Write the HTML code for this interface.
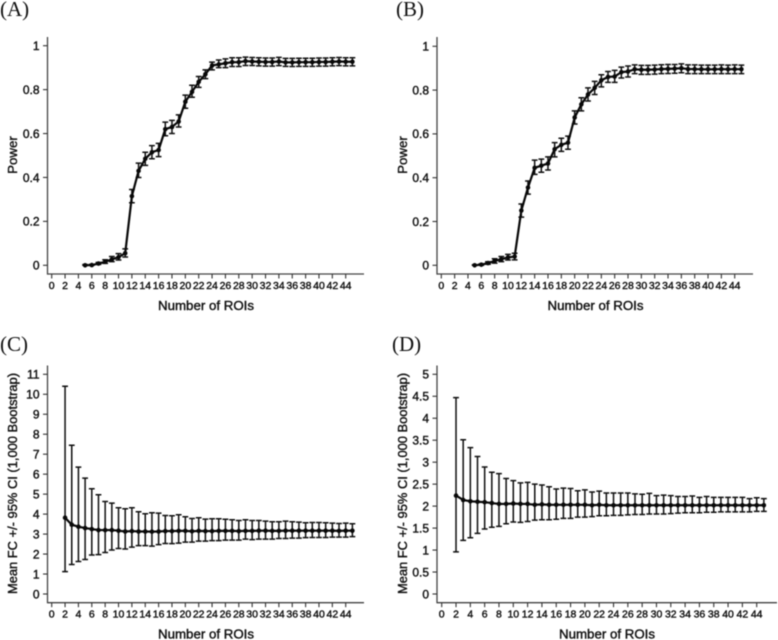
<!DOCTYPE html>
<html>
<head>
<meta charset="utf-8">
<title>Power and mean FC by number of ROIs</title>
<style>
html,body{margin:0;padding:0;background:#fff;}
#figure{display:block;width:778px;height:640px;filter:blur(0.4px);}
text{font-family:"Liberation Sans",sans-serif;fill:#111;stroke:#111;stroke-width:0.4px;}
.tag{font-family:"Liberation Serif",serif;font-size:21px;stroke:none;fill:#111;}
</style>
</head>
<body>
<svg id="figure" xmlns="http://www.w3.org/2000/svg" width="778" height="640" viewBox="0 0 778 640"></svg>
<script>
const roisPower = [5,6,7,8,9,10,11,12,13,14,15,16,17,18,19,20,21,22,23,24,25,26,27,28,29,30,31,32,33,34,35,36,37,38,39,40,41,42,43,44,45];
const roisFc = [2,3,4,5,6,7,8,9,10,11,12,13,14,15,16,17,18,19,20,21,22,23,24,25,26,27,28,29,30,31,32,33,34,35,36,37,38,39,40,41,42,43,44,45];
const xTickLabels = [0,2,4,6,8,10,12,14,16,18,20,22,24,26,28,30,32,34,36,38,40,42,44];
const powerTicks = [0,0.2,0.4,0.6,0.8,1];
const fcTicksC = [0,1,2,3,4,5,6,7,8,9,10,11];
const fcTicksD = [0,0.5,1,1.5,2,2.5,3,3.5,4,4.5,5];

const meanA = [0,0.001,0.008,0.016,0.027,0.037,0.055,0.315,0.43,0.485,0.515,0.525,0.62,0.63,0.655,0.745,0.79,0.835,0.87,0.91,0.915,0.92,0.925,0.925,0.93,0.928,0.927,0.926,0.926,0.928,0.924,0.924,0.925,0.925,0.925,0.926,0.926,0.927,0.928,0.927,0.927];
const upperA = [0.003,0.004,0.013,0.025,0.04,0.053,0.075,0.345,0.465,0.515,0.545,0.555,0.652,0.66,0.685,0.775,0.82,0.86,0.89,0.925,0.935,0.94,0.945,0.945,0.948,0.946,0.945,0.944,0.944,0.947,0.942,0.942,0.943,0.943,0.943,0.944,0.944,0.945,0.946,0.945,0.945];
const lowerA = [0,0,0.004,0.009,0.017,0.024,0.038,0.285,0.4,0.455,0.485,0.495,0.59,0.6,0.63,0.715,0.765,0.81,0.85,0.89,0.9,0.9,0.905,0.905,0.91,0.91,0.908,0.907,0.907,0.909,0.906,0.905,0.906,0.906,0.906,0.907,0.907,0.908,0.909,0.908,0.908];

const meanB = [0,0.003,0.01,0.02,0.028,0.036,0.04,0.25,0.355,0.445,0.455,0.465,0.53,0.55,0.56,0.675,0.735,0.78,0.81,0.845,0.86,0.862,0.882,0.885,0.895,0.893,0.893,0.894,0.896,0.897,0.898,0.9,0.896,0.896,0.895,0.895,0.895,0.896,0.895,0.896,0.895];
const upperB = [0.002,0.006,0.016,0.03,0.04,0.05,0.055,0.28,0.385,0.48,0.485,0.495,0.56,0.58,0.59,0.705,0.765,0.81,0.84,0.87,0.885,0.89,0.905,0.91,0.915,0.913,0.913,0.914,0.916,0.917,0.917,0.92,0.915,0.915,0.914,0.914,0.914,0.915,0.914,0.915,0.914];
const lowerB = [0,0,0.005,0.01,0.017,0.024,0.025,0.22,0.325,0.415,0.425,0.435,0.495,0.52,0.53,0.645,0.705,0.75,0.78,0.815,0.835,0.835,0.855,0.86,0.875,0.872,0.872,0.873,0.875,0.876,0.877,0.879,0.875,0.875,0.875,0.875,0.875,0.875,0.875,0.875,0.875];

const meanC = [3.82,3.47,3.37,3.3,3.25,3.2,3.2,3.2,3.17,3.13,3.15,3.13,3.13,3.12,3.13,3.15,3.15,3.16,3.16,3.14,3.16,3.15,3.15,3.16,3.16,3.16,3.15,3.16,3.16,3.17,3.17,3.16,3.16,3.17,3.17,3.17,3.17,3.17,3.17,3.17,3.17,3.16,3.17,3.17];
const upperC = [10.4,7.45,6.35,5.8,5.27,4.97,4.63,4.55,4.32,4.27,4.32,4.12,4.02,4.07,4.05,3.93,3.92,3.97,3.87,3.78,3.82,3.75,3.77,3.77,3.74,3.72,3.68,3.72,3.68,3.68,3.65,3.62,3.62,3.65,3.62,3.6,3.57,3.58,3.58,3.57,3.55,3.53,3.55,3.52];
const lowerC = [1.12,1.48,1.63,1.73,1.95,1.97,2.08,2.2,2.28,2.25,2.35,2.42,2.42,2.4,2.47,2.53,2.52,2.55,2.6,2.6,2.65,2.65,2.67,2.67,2.7,2.7,2.7,2.75,2.72,2.75,2.75,2.75,2.78,2.78,2.8,2.8,2.82,2.83,2.83,2.83,2.85,2.85,2.85,2.87];

const meanD = [2.24,2.14,2.11,2.1,2.09,2.07,2.05,2.05,2.06,2.05,2.05,2.03,2.04,2.03,2.03,2.03,2.03,2.03,2.03,2.02,2.03,2.02,2.02,2.02,2.02,2.02,2.02,2.02,2.02,2.02,2.02,2.02,2.02,2.02,2.02,2.02,2.02,2.02,2.02,2.02,2.02,2.02,2.02,2.02];
const upperD = [4.47,3.51,3.33,3.13,2.89,2.77,2.74,2.63,2.58,2.53,2.54,2.5,2.48,2.44,2.39,2.41,2.4,2.35,2.37,2.32,2.34,2.3,2.3,2.3,2.3,2.28,2.27,2.29,2.24,2.25,2.24,2.22,2.22,2.23,2.2,2.22,2.2,2.2,2.2,2.2,2.2,2.17,2.19,2.17];
const lowerD = [0.96,1.22,1.28,1.38,1.48,1.52,1.54,1.6,1.64,1.63,1.65,1.68,1.69,1.69,1.7,1.72,1.72,1.75,1.75,1.76,1.78,1.78,1.79,1.79,1.8,1.81,1.81,1.82,1.82,1.82,1.83,1.84,1.85,1.85,1.85,1.86,1.86,1.87,1.87,1.87,1.87,1.87,1.88,1.88];

const NS = 'http://www.w3.org/2000/svg';
const root = document.getElementById('figure');

function make(tag, parent, attrs, content) {
  const el = document.createElementNS(NS, tag);
  for (const k in attrs) el.setAttribute(k, attrs[k]);
  if (content !== undefined) el.textContent = content;
  parent.appendChild(el);
  return el;
}

function drawPanel(p) {
  const g = make('g', root, {});
  
  

  const scaleX = v => p.x0 + (p.x44 - p.x0) * v / 44;
  const scaleY = v => p.yZero + (p.yMax - p.yZero) * v / p.maxTick;

  const tag = make('text', g, { x: p.tagX, y: p.tagY, 'class': 'tag' }, '(' + p.id + ')');
  
  

  const yAxis = make('line', g, { x1: p.axisX, x2: p.axisX, y1: p.axisTop, y2: p.axisY + 0.6, stroke: '#444', 'stroke-width': 1.3 });
  
  

  const xAxis = make('line', g, { x1: p.axisX, x2: p.axisEnd, y1: p.axisY, y2: p.axisY, stroke: '#444', 'stroke-width': 1.3 });
  
  

  p.yTicks.forEach(v => {
    const y = scaleY(v);
    const tick = make('line', g, { x1: p.axisX - 4.5, x2: p.axisX, y1: y, y2: y, stroke: '#333', 'stroke-width': 1.1 });
    
    
    const label = make('text', g, { x: p.axisX - 8, y: y + 4.3, 'text-anchor': 'end', 'font-size': 12 }, String(v));
    
    
  });

  xTickLabels.forEach(v => {
    const x = scaleX(v);
    const tick = make('line', g, { x1: x, x2: x, y1: p.axisY, y2: p.axisY + 4.5, stroke: '#333', 'stroke-width': 1.1 });
    
    
    const label = make('text', g, { x: x, y: p.axisY + 15, 'text-anchor': 'middle', 'font-size': 10.5 }, String(v));
    
    
  });

  const xTitle = make('text', g, { x: p.xTitleX, y: p.axisY + 36, 'text-anchor': 'middle', 'font-size': 13.3 }, 'Number of ROIs');
  
  

  const yTitle = make('text', g, { transform: 'translate(' + p.yTitleX + ',' + p.yTitleY + ') rotate(-90)', 'text-anchor': 'middle', 'font-size': p.yTitleSize }, p.yTitle);
  
  

  p.rois.forEach((r, i) => {
    const x = scaleX(r);
    const hi = scaleY(p.upper[i]);
    const lo = scaleY(p.lower[i]);
    const bar = make('path', g, {
      d: 'M' + x + ' ' + hi + 'V' + lo + 'M' + (x - 2.9) + ' ' + hi + 'H' + (x + 2.9) + 'M' + (x - 2.9) + ' ' + lo + 'H' + (x + 2.9),
      fill: 'none', stroke: '#0f0f0f', 'stroke-width': 1.5
    });
    
    
  });

  const line = make('polyline', g, {
    points: p.rois.map((r, i) => scaleX(r) + ',' + scaleY(p.mean[i])).join(' '),
    fill: 'none', stroke: '#080808', 'stroke-width': 2.2, 'stroke-linejoin': 'round'
  });
  
  

  p.rois.forEach((r, i) => {
    const dot = make('circle', g, { cx: scaleX(r), cy: scaleY(p.mean[i]), r: 2.3, fill: '#080808' });
    
    
  });
}

const fcTitle = 'Mean FC +/- 95% CI (1,000 Bootstrap)';

drawPanel({ id: 'A', tagX: 0, tagY: 16, rois: roisPower, mean: meanA, upper: upperA, lower: lowerA,
  x0: 51.7, x44: 345.7, axisX: 47.5, axisEnd: 364, axisTop: 37, axisY: 274,
  yZero: 265.3, yMax: 45.7, maxTick: 1, yTicks: powerTicks, yTitle: 'Power', yTitleSize: 13.3,
  xTitleX: 206, yTitleX: 17, yTitleY: 155 });

drawPanel({ id: 'B', tagX: 396, tagY: 16, rois: roisPower, mean: meanB, upper: upperB, lower: lowerB,
  x0: 441.3, x44: 734.7, axisX: 437, axisEnd: 753, axisTop: 37, axisY: 274,
  yZero: 265.3, yMax: 46.3, maxTick: 1, yTicks: powerTicks, yTitle: 'Power', yTitleSize: 13.3,
  xTitleX: 595.5, yTitleX: 407, yTitleY: 155 });

drawPanel({ id: 'C', tagX: 0, tagY: 351, rois: roisFc, mean: meanC, upper: upperC, lower: lowerC,
  x0: 51.7, x44: 345.7, axisX: 47.5, axisEnd: 364, axisTop: 365.5, axisY: 602.7,
  yZero: 594, yMax: 374.3, maxTick: 11, yTicks: fcTicksC, yTitle: fcTitle, yTitleSize: 12.9,
  xTitleX: 206, yTitleX: 17, yTitleY: 483.5 });

drawPanel({ id: 'D', tagX: 392, tagY: 351, rois: roisFc, mean: meanD, upper: upperD, lower: lowerD,
  x0: 441.7, x44: 756.7, axisX: 437, axisEnd: 777, axisTop: 365.5, axisY: 602.7,
  yZero: 594, yMax: 374.3, maxTick: 5, yTicks: fcTicksD, yTitle: fcTitle, yTitleSize: 12.9,
  xTitleX: 607, yTitleX: 407, yTitleY: 483.5 });
</script>
</body>
</html>
